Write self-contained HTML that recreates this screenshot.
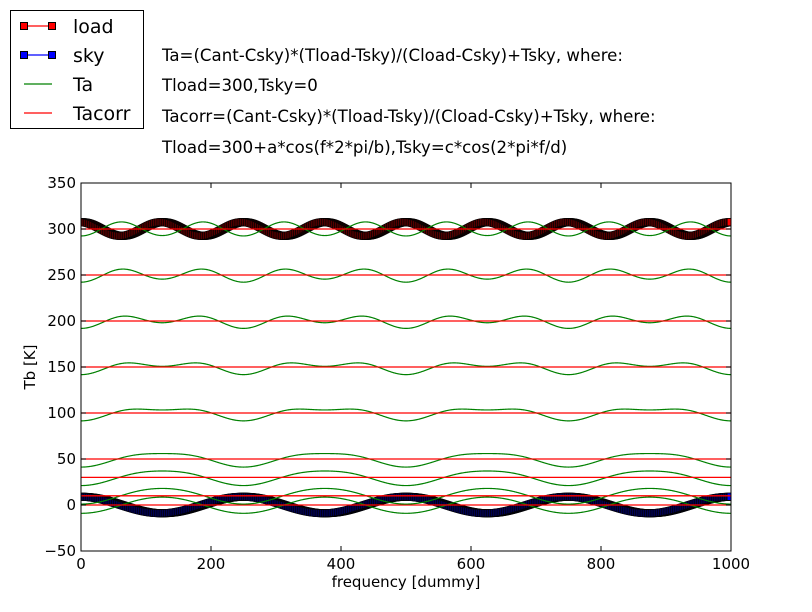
<!DOCTYPE html>
<html><head><meta charset="utf-8"><style>
body{margin:0;background:#fff;}
svg{display:block;font-family:"DejaVu Sans","Liberation Sans",sans-serif;}
</style></head><body>
<svg id="chart" width="812" height="612" viewBox="0 0 812 612">
<rect x="0" y="0" width="812" height="612" fill="#fff"/>
<g id="plot"></g>
<g id="frame"></g>
<g font-size="16.6" fill="#000">
<text x="162" y="61">Ta=(Cant-Csky)*(Tload-Tsky)/(Cload-Csky)+Tsky, where:</text>
<text x="162" y="91">Tload=300,Tsky=0</text>
<text x="162" y="122">Tacorr=(Cant-Csky)*(Tload-Tsky)/(Cload-Csky)+Tsky, where:</text>
<text x="162" y="153">Tload=300+a*cos(f*2*pi/b),Tsky=c*cos(2*pi*f/d)</text>
</g>
<g>
<rect x="10.5" y="10.5" width="133" height="118" fill="#fff" stroke="#000"/>
<g>
<line x1="24" y1="26" x2="52" y2="26" stroke="#ff0000" stroke-width="1.3"/>
<rect x="20.5" y="22.5" width="7" height="7" fill="red" stroke="#000"/>
<rect x="48.5" y="22.5" width="7" height="7" fill="red" stroke="#000"/>
<text x="73" y="33" font-size="19">load</text></g>
<g>
<line x1="24" y1="55" x2="52" y2="55" stroke="blue" stroke-width="1.3"/>
<rect x="20.5" y="51.5" width="7" height="7" fill="blue" stroke="#000"/>
<rect x="48.5" y="51.5" width="7" height="7" fill="blue" stroke="#000"/>
<text x="73" y="62" font-size="19">sky</text></g>
<g>
<line x1="24" y1="84" x2="52" y2="84" stroke="green" stroke-width="1.3"/>
<text x="73" y="91" font-size="19">Ta</text></g>
<g>
<line x1="24" y1="113" x2="52" y2="113" stroke="#ff0000" stroke-width="1.3"/>
<text x="73" y="120" font-size="19">Tacorr</text></g>
</g>
</svg>
<script>
const xTicks=[0,200,400,600,800,1000];
const yTicks=[-50,0,50,100,150,200,250,300,350];
const levels=[0,10,30,50,100,150,200,250,300];
const loadParams=[300,7.5,125]; // Tload nominal, a, b
const skyParams=[9,250];        // c, d
const nPoints=[1000];
const X0=81,X1=731,Y0=551,Y1=183,xmin=0,xmax=1000,ymin=-50,ymax=350;
const sx=v=>X0+(v-xmin)/(xmax-xmin)*(X1-X0);
const sy=v=>Y0-(v-ymin)/(ymax-ymin)*(Y0-Y1);
const NS="http://www.w3.org/2000/svg";
const plot=document.getElementById('plot'),frame=document.getElementById('frame');
function mk(tag,attrs,parent){const e=document.createElementNS(NS,tag);for(const k in attrs)e.setAttribute(k,attrs[k]);parent.appendChild(e);return e;}
const f=[];for(let i=0;i<=nPoints[0];i++)f.push(xmin+(xmax-xmin)*i/nPoints[0]);
const load=f.map(v=>loadParams[0]+loadParams[1]*Math.cos(v*2*Math.PI/loadParams[2]));
const sky=f.map(v=>skyParams[0]*Math.cos(2*Math.PI*v/skyParams[1]));
const clip=mk('clipPath',{id:'cp'},mk('defs',{},plot));
mk('rect',{x:X0,y:Y1,width:X1-X0,height:Y0-Y1},clip);
const g=mk('g',{'clip-path':'url(#cp)'},plot);
function series(vals,color,mark,name,w){
  const grp=mk('g',{},g);
  
  
  const pl=mk('polyline',{points:f.map((v,i)=>sx(v)+','+sy(vals[i])).join(' '),fill:'none',stroke:color,'stroke-width':w},grp);
  
  
  if(mark){vals.forEach((y,i)=>{const r=mk('rect',{x:sx(f[i])-3.6,y:sy(y)-3.6,width:7.2,height:7.2,fill:color,stroke:'#000','stroke-width':0.55},grp);
    
    });}
}
series(load,'#ff0000',true,'load-series',1);
series(sky,'blue',true,'sky-series',1);
levels.forEach(T=>{
  const ta=f.map((v,i)=>(T-sky[i])*(loadParams[0]-0)/(load[i]-sky[i])+0);
  series(ta,'green',false,'ta-'+T,1.2);
  const tc=f.map(()=>T);
  series(tc,'#ff0000',false,'tacorr-'+T,1.3);
});
mk('rect',{x:X0,y:Y1,width:X1-X0,height:Y0-Y1,fill:'none',stroke:'#000','stroke-width':1},frame);
xTicks.forEach(t=>{const x=sx(t);
  mk('line',{x1:x,y1:Y0,x2:x,y2:Y0-5,stroke:'#000'},frame);
  mk('line',{x1:x,y1:Y1,x2:x,y2:Y1+5,stroke:'#000'},frame);
  const tx=mk('text',{x:x,y:Y0+18,'text-anchor':'middle','font-size':15},frame);tx.textContent=t;
  
  });
yTicks.forEach(t=>{const y=sy(t);
  mk('line',{x1:X0,y1:y,x2:X0+5,y2:y,stroke:'#000'},frame);
  mk('line',{x1:X1,y1:y,x2:X1-5,y2:y,stroke:'#000'},frame);
  const tx=mk('text',{x:X0-5,y:y+5,'text-anchor':'end','font-size':15},frame);tx.textContent=String(t).replace('-','\u2212');
  
  });
const xl=mk('text',{x:(X0+X1)/2,y:587,'text-anchor':'middle','font-size':15},frame);xl.textContent='frequency [dummy]';


const yl=mk('text',{x:0,y:0,'text-anchor':'middle','font-size':15,transform:'translate(35,'+((Y0+Y1)/2)+') rotate(-90)'},frame);yl.textContent='Tb [K]';


</script>
</body></html>
